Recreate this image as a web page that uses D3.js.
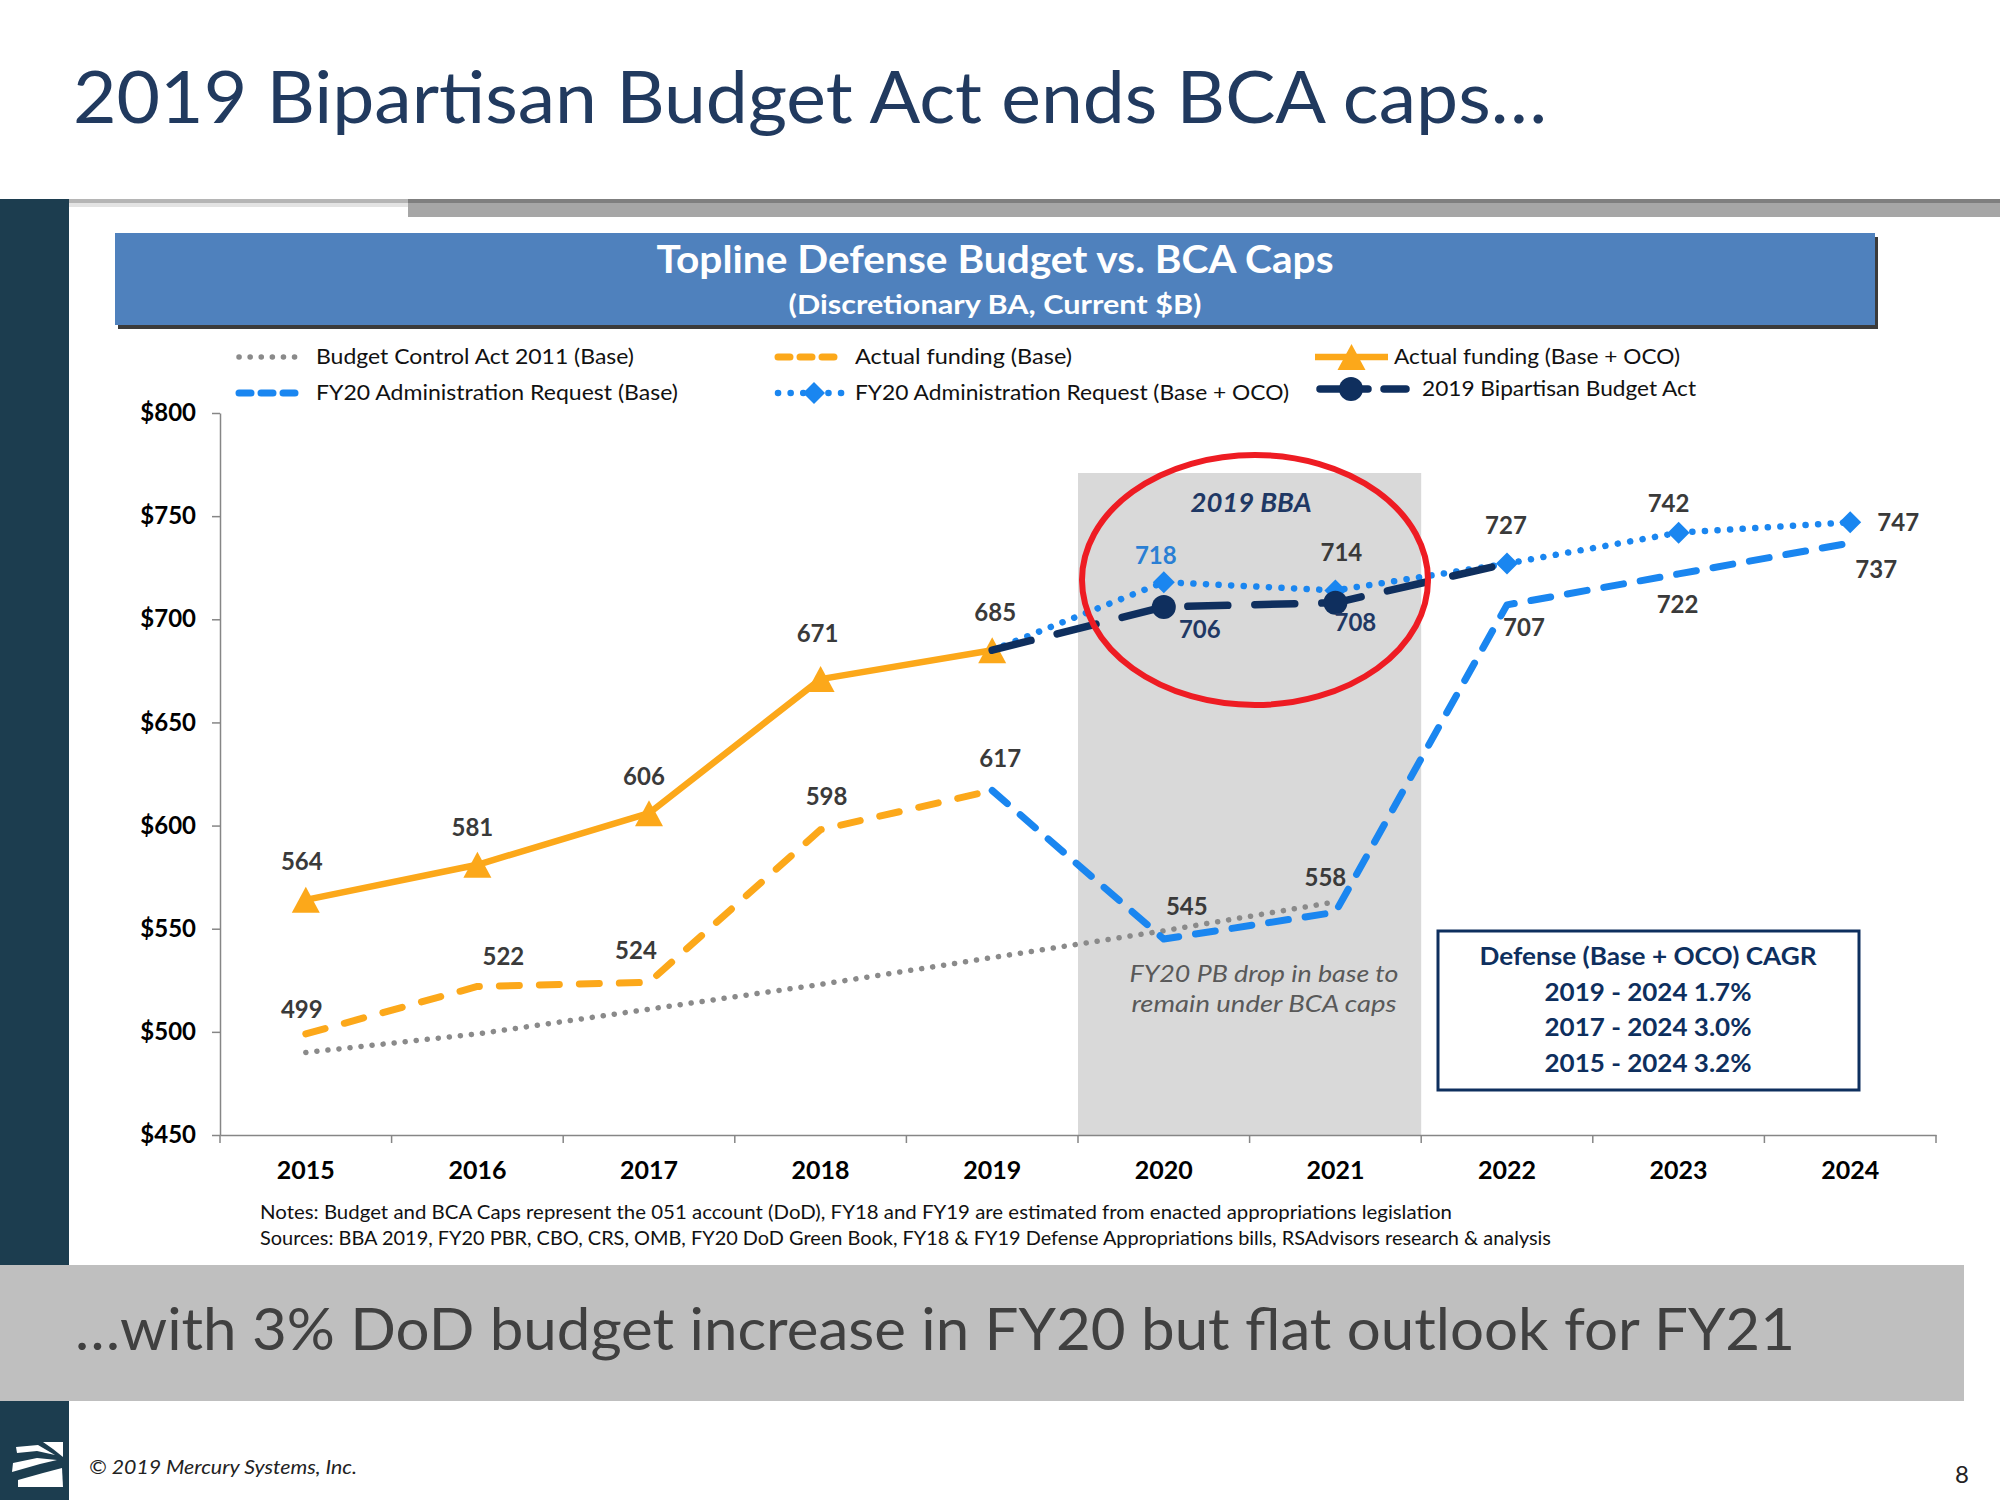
<!DOCTYPE html>
<html><head><meta charset="utf-8">
<script src="https://cdn.jsdelivr.net/npm/d3@7"></script>
<style>body{margin:0;background:#fff}</style>
</head><body>
<svg id="c" width="2000" height="1500" xmlns="http://www.w3.org/2000/svg"></svg>
<script>
// ---------- DATA ----------
const years = ["2015","2016","2017","2018","2019","2020","2021","2022","2023","2024"];
const bcaCaps      = [490, 499, 511, 523, 536, 549, 563, null, null, null];
const actualBase   = [499, 522, 524, 598, 617, null, null, null, null, null];
const actualTotal  = [564, 581, 606, 671, 685, null, null, null, null, null];
const requestBase  = [null, null, null, null, 617, 545, 558, 707, 722, 737];
const requestTotal = [null, null, null, null, 685, 718, 714, 727, 742, 747];
const bba2019      = [null, null, null, null, 685, 706, 708, 727, null, null];
const yTicks = [450, 500, 550, 600, 650, 700, 750, 800];
const legendNames = [
  "Budget Control Act 2011 (Base)",
  "Actual funding (Base)",
  "Actual funding (Base + OCO)",
  "FY20 Administration Request (Base)",
  "FY20 Administration Request (Base + OCO)",
  "2019 Bipartisan Budget Act"
];
const cagrLines = ["Defense (Base + OCO) CAGR", "2019 - 2024 1.7%", "2017 - 2024 3.0%", "2015 - 2024 3.2%"];
const titleText = "2019 Bipartisan Budget Act ends BCA caps…";
const chartTitle = "Topline Defense Budget vs. BCA Caps";
const chartSubtitle = "(Discretionary BA, Current $B)";
const bannerText = "…with 3% DoD budget increase in FY20 but flat outlook for FY21";
const notesLines = [
  "Notes: Budget and BCA Caps represent the 051 account (DoD), FY18 and FY19 are estimated from enacted appropriations legislation",
  "Sources: BBA 2019, FY20 PBR, CBO, CRS, OMB, FY20 DoD Green Book, FY18 & FY19 Defense Appropriations bills, RSAdvisors research & analysis"
];
const annotBBA = "2019 BBA";
const annotDrop = ["FY20 PB drop in base to", "remain under BCA caps"];
const footerText = "© 2019 Mercury Systems, Inc.";
const pageNum = "8";

// ---------- STYLE / LAYOUT ----------
const ORANGE = "#fca81a", BLUE = "#1a86f0", NAVY = "#0f2f5e", GRAY = "#8a8a8a", LBL = "#3a3a3a";
const FONT = "Lato, 'Open Sans', sans-serif";

const svg = d3.select("#c");

// left dark band & header separators
svg.append("rect").attr("x",0).attr("y",199).attr("width",69).attr("height",1066).attr("fill","#1c3d4f");
svg.append("rect").attr("x",0).attr("y",1401).attr("width",69).attr("height",99).attr("fill","#1c3d4f");
svg.append("rect").attr("x",69).attr("y",199).attr("width",339).attr("height",4).attr("fill","#b5b5b5");
svg.append("rect").attr("x",69).attr("y",203).attr("width",339).attr("height",4).attr("fill","#e3e3e3");
svg.append("rect").attr("x",408).attr("y",199).attr("width",1592).attr("height",18).attr("fill","#a6a6a6");
svg.append("rect").attr("x",408).attr("y",199).attr("width",1592).attr("height",4).attr("fill","#7f7f7f");

// title
svg.append("text").attr("x",73).attr("y",123).text(titleText)
  .attr("font-family",FONT).attr("font-size",72).attr("fill","#213a5f")
  .attr("textLength",1474).attr("lengthAdjust","spacingAndGlyphs");

// chart header box
svg.append("rect").attr("x",118).attr("y",237).attr("width",1760).attr("height",92).attr("fill","#3b3b3b");
svg.append("rect").attr("x",115).attr("y",233).attr("width",1760).attr("height",92).attr("fill","#4f81bd");
svg.append("text").attr("x",995).attr("y",273).attr("text-anchor","middle").text(chartTitle)
  .attr("font-family",FONT).attr("font-weight","bold").attr("font-size",38).attr("fill","#fff")
  .attr("textLength",677).attr("lengthAdjust","spacingAndGlyphs");
svg.append("text").attr("x",995).attr("y",314).attr("text-anchor","middle").text(chartSubtitle)
  .attr("font-family",FONT).attr("font-weight","bold").attr("font-size",27).attr("fill","#fff")
  .attr("textLength",413).attr("lengthAdjust","spacingAndGlyphs");

// scales
const x = d3.scaleBand().domain(years).range([220, 1936]).paddingInner(0).paddingOuter(0);
const cx = d => x(d) + x.bandwidth() / 2;
const y = d3.scaleLinear().domain([450, 800]).range([1135, 413]);

// shaded 2020-2021 region
svg.append("rect").attr("x", x("2020")).attr("y", 473)
  .attr("width", x("2021") + x.bandwidth() - x("2020")).attr("height", y(450) - 473)
  .attr("fill", "#d9d9d9");

// axes
const yAxis = svg.append("g").attr("transform","translate(220,0)")
  .call(d3.axisLeft(y).tickValues(yTicks).tickFormat(d => "$" + d).tickSize(8).tickSizeOuter(0).tickPadding(16));
yAxis.selectAll("text").attr("font-family",FONT).attr("font-weight","bold")
  .attr("font-size",24).attr("fill","#000");
yAxis.selectAll("line,path").attr("stroke","#868686").attr("stroke-width",1.5);

const xAxis = svg.append("g").attr("transform","translate(0,1135)")
  .call(d3.axisBottom(x).tickSize(0).tickSizeOuter(0).tickPadding(26));
xAxis.selectAll("text").attr("font-family",FONT).attr("font-weight","bold").attr("font-size",25).attr("fill","#000");
xAxis.select("path").attr("stroke","#868686").attr("stroke-width",1.5);
const bounds = years.map(d => x(d)).concat([x(years[years.length-1]) + x.bandwidth()]);
svg.append("g").selectAll("line").data(bounds).join("line")
  .attr("x1", d => d).attr("x2", d => d).attr("y1", 1135).attr("y2", 1143)
  .attr("stroke","#868686").attr("stroke-width",1.5);

// series
const tri = "M0,-13L14,13L-14,13Z";
const dia = "M0,-11L11,0L0,11L-11,0Z";
const series = [
  {name: legendNames[0], values: bcaCaps, color: GRAY, width: 5.5, dash: "0.1 11", cap: "round", marker: null},
  {name: legendNames[1], values: actualBase, color: ORANGE, width: 7, dash: "20 20", cap: "round", marker: null},
  {name: legendNames[2], values: actualTotal, color: ORANGE, width: 6.5, dash: null, cap: "butt", marker: "tri"},
  {name: legendNames[3], values: requestBase, color: BLUE, width: 7, dash: "20 17", cap: "round", marker: null},
  {name: legendNames[4], values: requestTotal, color: BLUE, width: 6.5, dash: "0.1 12.5", cap: "round", marker: "dia"},
  {name: legendNames[5], values: bba2019, color: NAVY, width: 7.5, dash: "40 27", cap: "round", marker: "circ"}
];
// which points carry a value label, with label offsets (dx, dy to baseline)
const labelSpec = [
  [],
  [[0,-4,-16],[1,26,-21],[2,-13,-23],[3,6,-25],[4,8,-24]],
  [[0,-4,-30],[1,-5,-29],[2,-5,-28],[3,-3,-37],[4,3,-29]],
  [[5,23,-24],[6,-10,-26],[7,17,31],[8,-1,39],[9,26,35]],
  [[5,-8,-18],[6,6,-29],[7,-1,-30],[8,-10,-21],[9,48,9]],
  [[5,36,31],[6,20,28]]
];
const labelColor = [LBL, LBL, LBL, LBL, LBL, "#1f3864"];

const line = d3.line().defined(d => d.v != null).x(d => cx(d.k)).y(d => y(d.v));
const gLines = svg.append("g");
series.forEach((s, si) => {
  const pts = years.map((k, i) => ({k, v: s.values[i]}));
  gLines.append("path").datum(pts).attr("d", line).attr("fill","none")
    .attr("stroke", s.color).attr("stroke-width", s.width)
    .attr("stroke-dasharray", s.dash).attr("stroke-linecap", s.cap).attr("stroke-linejoin","round");
  let mpts = pts.filter(d => d.v != null);
  if (s.marker === "dia") mpts = mpts.filter(d => d.k !== "2019");
  if (s.marker === "circ") mpts = mpts.filter(d => d.k === "2020" || d.k === "2021");
  if (s.marker === "tri" || s.marker === "dia") {
    gLines.selectAll(null).data(mpts).join("path")
      .attr("d", s.marker === "tri" ? tri : dia)
      .attr("transform", d => `translate(${cx(d.k)},${y(d.v)})`).attr("fill", s.color);
  } else if (s.marker === "circ") {
    gLines.selectAll(null).data(mpts).join("circle")
      .attr("cx", d => cx(d.k)).attr("cy", d => y(d.v)).attr("r", 12).attr("fill", s.color);
  }
});

// value labels
const gLbl = svg.append("g");
series.forEach((s, si) => {
  labelSpec[si].forEach(([i, dx, dy]) => {
    gLbl.append("text").attr("x", cx(years[i]) + dx).attr("y", y(s.values[i]) + dy)
      .attr("text-anchor","middle").text(s.values[i])
      .attr("font-family",FONT).attr("font-weight","bold").attr("font-size",24)
      .attr("fill", (si === 4 && i === 5) ? "#2a7fd4" : labelColor[si]);
  });
});

// legend
const legendPos = [
  {x0:236, x1:304, y:357, tx:316, tw:318},
  {x0:775, x1:845, y:357, tx:855, tw:217},
  {x0:1315, x1:1388, y:357, tx:1394, tw:286},
  {x0:236, x1:304, y:393, tx:316, tw:362},
  {x0:775, x1:845, y:393, tx:855, tw:434},
  {x0:1317, x1:1409, y:389, tx:1422, tw:274}
];
const gLeg = svg.append("g");
series.forEach((s, i) => {
  const p = legendPos[i];
  gLeg.append("line").attr("x1", p.x0 + (s.cap === "round" ? 3 : 0)).attr("x2", p.x1 - (s.cap === "round" ? 3 : 0))
    .attr("y1", p.y).attr("y2", p.y)
    .attr("stroke", s.color).attr("stroke-width", s.width)
    .attr("stroke-dasharray", s.marker === "circ" ? "48 16" : (s.dash === "20 20" || s.dash === "20 17" ? "12 10" : s.dash))
    .attr("stroke-linecap", s.cap);
  const mx = s.marker === "circ" ? 1351 : (p.x0 + p.x1) / 2 + (s.marker === "dia" ? 4 : 0);
  if (s.marker === "tri" || s.marker === "dia")
    gLeg.append("path").attr("d", s.marker === "tri" ? tri : dia)
      .attr("transform", `translate(${mx},${p.y})`).attr("fill", s.color);
  if (s.marker === "circ")
    gLeg.append("circle").attr("cx", mx).attr("cy", p.y).attr("r", 12).attr("fill", s.color);
  gLeg.append("text").attr("x", p.tx).attr("y", p.y + 7).text(s.name)
    .attr("font-family", FONT).attr("font-size", 21).attr("fill", "#111")
    .attr("textLength", p.tw).attr("lengthAdjust", "spacingAndGlyphs");
});

// annotations
svg.append("ellipse").attr("cx",1255).attr("cy",580).attr("rx",173).attr("ry",125)
  .attr("fill","none").attr("stroke","#ee1c23").attr("stroke-width",6);
svg.append("text").attr("x",1251).attr("y",512).attr("text-anchor","middle").text(annotBBA)
  .attr("font-family",FONT).attr("font-weight","bold").attr("font-style","italic").attr("font-size",26)
  .attr("fill","#1f3864").attr("textLength",121).attr("lengthAdjust","spacingAndGlyphs");
annotDrop.forEach((t, i) => {
  svg.append("text").attr("x",1264).attr("y",982 + i * 30).attr("text-anchor","middle").text(t)
    .attr("font-family",FONT).attr("font-style","italic").attr("font-size",24).attr("fill","#595959")
    .attr("textLength", i === 0 ? 269 : 265).attr("lengthAdjust","spacingAndGlyphs");
});

// CAGR box
svg.append("rect").attr("x",1438).attr("y",931).attr("width",421).attr("height",159)
  .attr("fill","#fff").attr("stroke","#0e2f5e").attr("stroke-width",3);
const cagrW = [337, 207, 207, 207];
cagrLines.forEach((t, i) => {
  svg.append("text").attr("x",1648).attr("y",965 + i * 35.5).attr("text-anchor","middle").text(t)
    .attr("font-family",FONT).attr("font-weight","bold").attr("font-size",25).attr("fill","#0e2f5e")
    .attr("textLength", cagrW[i]).attr("lengthAdjust","spacingAndGlyphs");
});

// notes
const notesW = [1192, 1291];
notesLines.forEach((t, i) => {
  svg.append("text").attr("x",260).attr("y",1219 + i * 26).text(t)
    .attr("font-family",FONT).attr("font-size",19).attr("fill","#111")
    .attr("textLength", notesW[i]).attr("lengthAdjust","spacingAndGlyphs");
});

// bottom banner
svg.append("rect").attr("x",0).attr("y",1265).attr("width",1964).attr("height",136).attr("fill","#bfbfbf");
svg.append("text").attr("x",75).attr("y",1350).text(bannerText)
  .attr("font-family",FONT).attr("font-size",58).attr("fill","#404040")
  .attr("textLength",1720).attr("lengthAdjust","spacingAndGlyphs");

// footer
svg.append("text").attr("x",89).attr("y",1474).text(footerText)
  .attr("font-family",FONT).attr("font-style","italic").attr("font-size",19).attr("fill","#222")
  .attr("textLength",268).attr("lengthAdjust","spacingAndGlyphs");
svg.append("text").attr("x",1955).attr("y",1483).text(pageNum)
  .attr("font-family",FONT).attr("font-size",24).attr("fill","#222");

// logo
const logo = [
  [[43,62],[63,62],[63,77],[53,69]],
  [[16,67],[38,65],[55,75],[37,71],[17,73]],
  [[13,83],[37,78],[57,80],[40,84],[12,92]],
  [[18,100],[43,93],[62,88],[63,107],[18,107]]
];
svg.append("g").attr("transform","translate(0,1380)").selectAll("polygon").data(logo).join("polygon")
  .attr("points", d => d.map(p => p.join(",")).join(" ")).attr("fill","#fff");
</script>
</body></html>
